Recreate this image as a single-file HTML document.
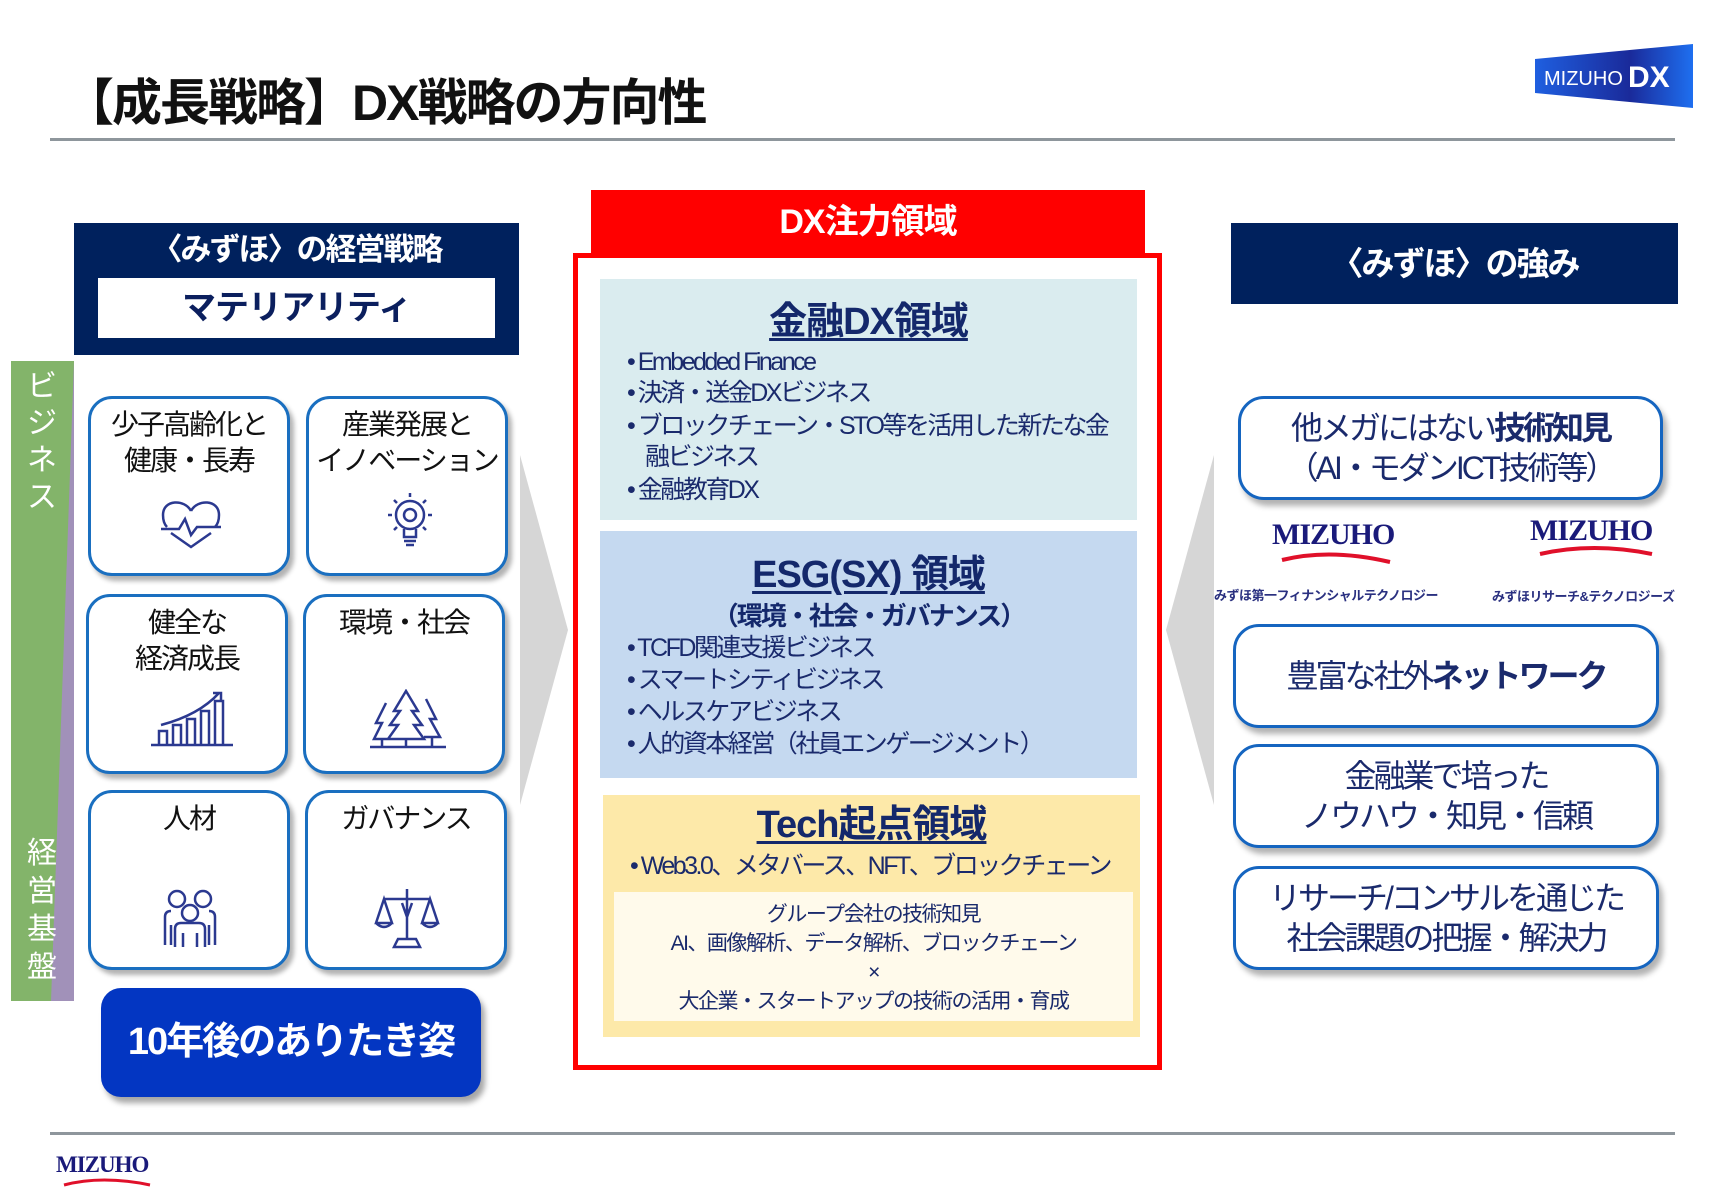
<!DOCTYPE html>
<html><head><meta charset="utf-8"><style>
*{margin:0;padding:0;box-sizing:border-box}
body{width:1717px;height:1200px;background:#fff;position:relative;overflow:hidden;font-family:"Liberation Sans","Noto Sans CJK JP",sans-serif}
.a{position:absolute}
.c{text-align:center}
.card{position:absolute;border:3px solid #1a6fc0;border-radius:24px;background:#fff;box-shadow:4px 5px 5px rgba(0,0,0,.3)}
.ct{position:absolute;left:-10px;right:-10px;text-align:center;font-size:28px;line-height:36px;color:#111;letter-spacing:-2px}
.rc{position:absolute;border:3px solid #1565c0;border-radius:26px;background:#fff;box-shadow:4px 6px 6px rgba(0,0,0,.3);text-align:center;color:#1a2a6c;font-size:32px;line-height:40px;display:flex;flex-direction:column;justify-content:center;letter-spacing:-3px}
.it{position:absolute;left:627px;font-size:25px;color:#1a2a6c;line-height:30px;white-space:nowrap;letter-spacing:-2.5px}
.pt{position:absolute;left:600px;width:537px;text-align:center;font-weight:bold;color:#14286b;font-size:38px;line-height:44px;letter-spacing:-1px}
.pt span{text-decoration:underline;text-decoration-thickness:3px;text-underline-offset:4px}
.mz{font-family:"Liberation Serif",serif;font-weight:bold;color:#1a1a7a;letter-spacing:-1px}
</style></head><body>

<div class="a" style="left:64px;top:72px;font-size:50px;font-weight:bold;color:#111;line-height:62px;letter-spacing:-2px">【成長戦略】DX戦略の方向性</div>
<svg class="a" style="left:1530px;top:40px" width="180" height="75"><defs><linearGradient id="g" x1="0" x2="1"><stop offset="0" stop-color="#1f5fe0"/><stop offset=".6" stop-color="#1a2a9a"/><stop offset="1" stop-color="#1e6ff0"/></linearGradient></defs><polygon points="5,19 163,4 163,68 5,53" fill="url(#g)"/><text x="14" y="45" fill="#fff" font-size="20" font-family="Liberation Sans">MIZUHO</text><text x="98" y="47" fill="#fff" font-size="30" font-weight="bold" font-family="Liberation Sans">DX</text></svg>
<div class="a" style="left:50px;top:138px;width:1625px;height:3px;background:#8e969c"></div>

<div class="a" style="left:74px;top:223px;width:445px;height:132px;background:#00215d"></div>
<div class="a c" style="left:74px;top:228px;width:445px;color:#fff;font-size:31px;font-weight:bold;line-height:44px;letter-spacing:-2px">〈みずほ〉の経営戦略</div>
<div class="a c" style="left:98px;top:278px;width:397px;height:60px;background:#fff;color:#0b1f5e;font-size:34px;font-weight:bold;line-height:60px;letter-spacing:-1px">マテリアリティ</div>

<svg class="a" style="left:11px;top:361px" width="63" height="640"><rect width="63" height="640" fill="#a191b9"/><polygon points="0,0 63,0 40,640 0,640" fill="#83b46a"/></svg>
<div class="a" style="left:22px;top:368px;width:40px;color:#fff;font-size:30px;line-height:37px;text-align:center">ビ<br>ジ<br>ネ<br>ス</div>
<div class="a" style="left:22px;top:835px;width:40px;color:#fff;font-size:30px;line-height:38px;text-align:center">経<br>営<br>基<br>盤</div>

<div class="card" style="left:88px;top:396px;width:202px;height:180px"><div class="ct" style="top:8px">少子高齢化と<br>健康・長寿</div>
<svg class="a" style="left:68px;top:100px" width="64" height="50" fill="none" stroke="#2b3990" stroke-width="2.5"><path d="M32 12 C26 0 4 0 4 16 C4 22 6 26 8 28 M32 12 C38 0 60 0 60 16 C60 22 58 26 56 28"/><path d="M2 30 H20 L26 20 L32 36 L38 28 H62"/><path d="M12 34 L32 48 L52 34"/></svg></div>
<div class="card" style="left:306px;top:396px;width:202px;height:180px"><div class="ct" style="top:8px">産業発展と<br>イノベーション</div>
<svg class="a" style="left:74px;top:92px" width="54" height="62" fill="none" stroke="#2b3990" stroke-width="2.5"><circle cx="27" cy="24" r="14"/><circle cx="27" cy="24" r="6"/><path d="M21 38 V46 H33 V38 M21 50 H33 M23 54 H31 M27 2 V6 M5 24 H9 M45 24 H49 M11 9 L14 12 M43 9 L40 12 M11 39 L14 36 M43 39 L40 36"/></svg></div>
<div class="card" style="left:86px;top:594px;width:202px;height:180px"><div class="ct" style="top:8px">健全な<br>経済成長</div>
<svg class="a" style="left:60px;top:92px" width="86" height="60" fill="none" stroke="#2b3990" stroke-width="2.5"><path d="M2 56 H84 M10 56 V42 H18 V56 M24 56 V36 H32 V56 M38 56 V30 H46 V56 M52 56 V22 H60 V56 M66 56 V12 H74 V56 M12 36 Q50 26 70 4 M64 4 H72 V12"/></svg></div>
<div class="card" style="left:303px;top:594px;width:202px;height:180px"><div class="ct" style="top:8px">環境・社会</div>
<svg class="a" style="left:64px;top:92px" width="76" height="62" fill="none" stroke="#2b3990" stroke-width="2.5"><path d="M36 2 L24 22 H30 L20 36 H28 L18 50 H54 L44 36 H52 L42 22 H48 Z M16 14 L6 34 H12 L4 50 H20 M56 10 L66 30 H60 L70 48 H54 M0 58 H76 M36 50 V58 M12 50 V58 M62 48 V58"/></svg></div>
<div class="card" style="left:88px;top:790px;width:202px;height:180px"><div class="ct" style="top:8px">人材</div>
<svg class="a" style="left:70px;top:96px" width="58" height="62" fill="none" stroke="#2b3990" stroke-width="2.5"><circle cx="16" cy="10" r="8"/><circle cx="42" cy="10" r="8"/><circle cx="29" cy="24" r="8"/><path d="M4 56 V28 Q4 22 10 22 M54 56 V28 Q54 22 48 22 M14 58 V40 Q14 34 20 34 H38 Q44 34 44 40 V58 M22 44 V58 M36 44 V58 M10 36 V56 M48 36 V56"/></svg></div>
<div class="card" style="left:305px;top:790px;width:202px;height:180px"><div class="ct" style="top:8px">ガバナンス</div>
<svg class="a" style="left:66px;top:94px" width="66" height="64" fill="none" stroke="#2b3990" stroke-width="2.5"><path d="M33 2 V52 M10 12 H56 M10 12 L2 36 H18 Z M56 12 L48 36 H64 Z M2 36 Q10 44 18 36 M48 36 Q56 44 64 36 M24 52 H42 L46 60 H20 Z M28 16 L33 30 L38 16"/></svg></div>

<div class="a c" style="left:101px;top:988px;width:380px;height:109px;background:#0336c2;border-radius:20px;box-shadow:4px 6px 6px rgba(0,0,0,.35);color:#fff;font-size:38px;font-weight:bold;line-height:109px;letter-spacing:-2px">10年後のありたき姿</div>

<svg class="a" style="left:520px;top:455px" width="50" height="350"><polygon points="0,0 48,175 0,350" fill="#d6d6d6"/></svg>
<svg class="a" style="left:1166px;top:455px" width="50" height="350"><polygon points="48,0 0,175 48,350" fill="#d6d6d6"/></svg>

<div class="a" style="left:573px;top:253px;width:589px;height:817px;border:5px solid #f00"></div>
<div class="a c" style="left:591px;top:190px;width:554px;height:65px;background:#f00;color:#fff;font-size:34px;font-weight:bold;line-height:65px;letter-spacing:-1px">DX注力領域</div>

<div class="a" style="left:600px;top:279px;width:537px;height:241px;background:#daecef"></div>
<div class="pt" style="top:300px"><span>金融DX領域</span></div>
<div class="it" style="top:347px">• Embedded Finance</div>
<div class="it" style="top:378px">• 決済・送金DXビジネス</div>
<div class="it" style="top:411px">• ブロックチェーン・STO等を活用した新たな金</div>
<div class="it" style="top:442px;left:645px">融ビジネス</div>
<div class="it" style="top:475px">• 金融教育DX</div>

<div class="a" style="left:600px;top:531px;width:537px;height:247px;background:#c5d9f0"></div>
<div class="pt" style="top:553px"><span>ESG(SX) 領域</span></div>
<div class="a c" style="left:600px;top:601px;width:537px;font-size:26px;font-weight:bold;color:#14286b;line-height:30px;letter-spacing:-2px">（環境・社会・ガバナンス）</div>
<div class="it" style="top:633px">• TCFD関連支援ビジネス</div>
<div class="it" style="top:665px">• スマートシティビジネス</div>
<div class="it" style="top:697px">• ヘルスケアビジネス</div>
<div class="it" style="top:729px">• 人的資本経営（社員エンゲージメント）</div>

<div class="a" style="left:603px;top:795px;width:537px;height:242px;background:#fde9a9"></div>
<div class="pt" style="top:803px;left:603px"><span>Tech起点領域</span></div>
<div class="it" style="top:851px;left:630px">• Web3.0、メタバース、NFT、ブロックチェーン</div>
<div class="a c" style="left:614px;top:892px;width:519px;height:129px;background:#fffaeb;color:#1a2a6c;font-size:21px;line-height:29px;padding-top:8px;letter-spacing:-1.5px">グループ会社の技術知見<br>AI、画像解析、データ解析、ブロックチェーン<br>×<br>大企業・スタートアップの技術の活用・育成</div>

<div class="a c" style="left:1231px;top:223px;width:447px;height:81px;background:#00215d;color:#fff;font-size:33px;font-weight:bold;line-height:81px;letter-spacing:-2px">〈みずほ〉の強み</div>
<div class="rc" style="left:1238px;top:396px;width:425px;height:104px"><div>他メガにはない<b>技術知見</b></div><div>（AI・モダンICT技術等）</div></div>
<div class="a mz" style="left:1272px;top:518px;font-size:30px">MIZUHO</div>
<svg class="a" style="left:1280px;top:550px" width="120" height="14"><path d="M2 10 Q50 -2 110 12" stroke="#e0102a" stroke-width="4" fill="none"/></svg>
<div class="a" style="left:1214px;top:585px;font-size:13px;color:#2a3080;font-weight:bold;letter-spacing:-0.5px">みずほ第一フィナンシャルテクノロジー</div>
<div class="a mz" style="left:1530px;top:514px;font-size:30px">MIZUHO</div>
<svg class="a" style="left:1538px;top:544px" width="120" height="14"><path d="M2 10 Q55 -2 114 10" stroke="#e0102a" stroke-width="4" fill="none"/></svg>
<div class="a" style="left:1492px;top:586px;font-size:13px;color:#2a3080;font-weight:bold;letter-spacing:-0.5px">みずほリサーチ&amp;テクノロジーズ</div>
<div class="rc" style="left:1233px;top:624px;width:426px;height:104px"><div>豊富な社外<b>ネットワーク</b></div></div>
<div class="rc" style="left:1233px;top:744px;width:426px;height:104px"><div>金融業で培った</div><div>ノウハウ・知見・信頼</div></div>
<div class="rc" style="left:1233px;top:866px;width:426px;height:104px"><div>リサーチ/コンサルを通じた</div><div>社会課題の把握・解決力</div></div>

<div class="a" style="left:50px;top:1132px;width:1625px;height:3px;background:#8e969c"></div>
<div class="a mz" style="left:56px;top:1152px;font-size:23px">MIZUHO</div>
<svg class="a" style="left:62px;top:1176px" width="92" height="12"><path d="M2 9 Q40 -1 88 9" stroke="#e0102a" stroke-width="3" fill="none"/></svg>
</body></html>
